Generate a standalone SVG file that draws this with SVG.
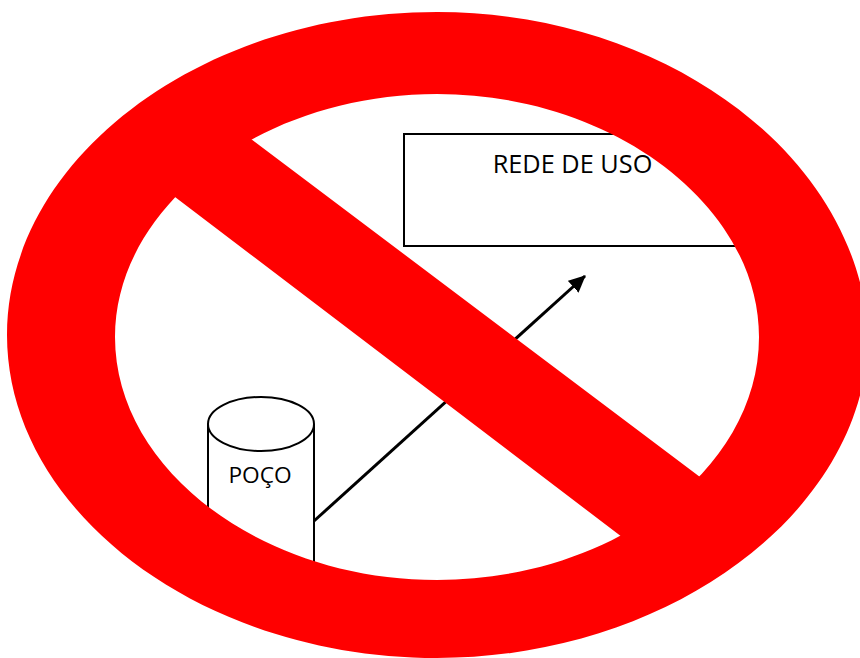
<svg xmlns="http://www.w3.org/2000/svg" width="860" height="658" viewBox="0 0 860 658">
<style>
.o{fill:none;stroke:#000;stroke-width:2}
.t{font-family:"Open Sans","Liberation Sans",sans-serif;fill:#000}
</style>
<defs><marker id="a" markerUnits="userSpaceOnUse" markerWidth="18" markerHeight="16" refX="16" refY="8" orient="auto"><path d="M0 0L17 8L0 16Z" fill="#000"/></marker></defs>
<rect width="860" height="658" fill="#fff"/>
<g id="rede"><rect class="o" x="404" y="134" width="345" height="112"/><text class="t" x="572.500" y="173" font-size="25.300" text-anchor="middle">REDE DE USO</text></g>
<g id="poco"><path class="o" d="M208 424V575M314 424V575"/><ellipse class="o" cx="261" cy="424" rx="53" ry="27"/><text class="t" x="260" y="483" font-size="22.700" text-anchor="middle">POÇO</text></g>
<g id="connectors"><path d="M314 521L585 276" fill="none" stroke="#000" stroke-width="3" marker-end="url(#a)"/></g>
<g id="proibido"><path fill="#f00" fill-rule="evenodd" d="M437 12C670 12 860 160 868 335C868 510 670 658 437 658C200 658 7 510 7 335C7 160 200 12 437 12ZM437 94C262 94 115 205 115 337C115 470 262 580 437 580C612 580 759 470 759 337C759 205 612 94 437 94Z"/><path fill="#f00" d="M251 139L221 120L140 180L175 197L622 537L650 560L735 500L700 477Z"/></g>
</svg>
